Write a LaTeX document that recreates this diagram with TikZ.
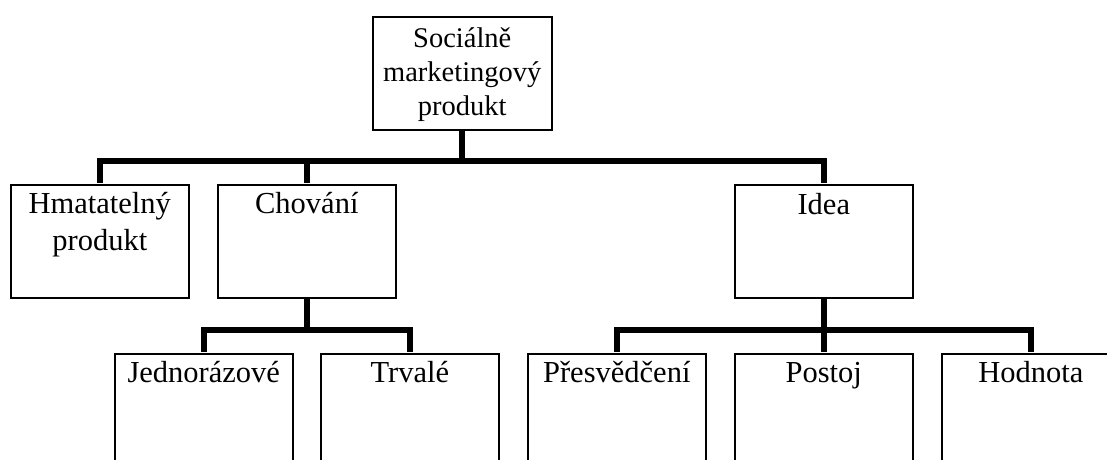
\documentclass[tikz,border=0pt]{standalone}
\usepackage{fontspec}
\setmainfont{Liberation Serif}
\begin{document}
\begin{tikzpicture}[x=1pt,y=1pt,
  box/.style={draw=black, line width=1.6pt, fill=white, inner sep=0pt, minimum width=178pt, minimum height=113pt, anchor=north west},
  lowbox/.style={box, minimum height=130pt},
  lbl/.style={inner sep=0pt, text width=178pt, align=center, anchor=base, font=\fontsize{30.5}{37}\selectfont},
  toplbl/.style={lbl, font=\fontsize{28.5}{34}\selectfont},
  conn/.style={draw=black, line width=6pt, line join=miter, line cap=butt}]
\path[use as bounding box] (0,0) rectangle (1107,-459);
\clip (0,0) rectangle (1107,-459);
% boxes
\node[box, minimum width=179pt] (top) at (372,-16) {};
\node[box] (hm) at (10,-184) {};
\node[box] (ch) at (217,-184) {};
\node[box] (id) at (734,-184) {};
\node[lowbox] (je) at (114,-353) {};
\node[lowbox] (tr) at (320,-353) {};
\node[lowbox] (pr) at (527,-353) {};
\node[lowbox] (po) at (734,-353) {};
\node[lowbox] (ho) at (941,-353) {};
% labels
\node[toplbl, text width=179pt] (topt) at ([yshift=-31pt]top.north) {Sociálně\\marketingový\\produkt};
\node[lbl] (hmt) at ([yshift=-29pt]hm.north) {Hmatatelný\\produkt};
\node[lbl] (cht) at ([yshift=-29pt]ch.north) {Chování};
\node[lbl] (idt) at ([yshift=-30pt]id.north) {Idea};
\node[lbl] (jet) at ([yshift=-29pt]je.north) {Jednorázové};
\node[lbl] (trt) at ([yshift=-29pt]tr.north) {Trvalé};
\node[lbl] (prt) at ([yshift=-29pt]pr.north) {Přesvědčení};
\node[lbl] (pot) at ([yshift=-29pt]po.north) {Postoj};
\node[lbl] (hot) at ([yshift=-29pt]ho.north) {Hodnota};
% bus coordinates
\coordinate (b1) at (0,-161);
\coordinate (b2) at (0,-330);
% connectors
\draw[conn] ([yshift=-0.8pt]top.south) -- (top.south |- b1);
\draw[conn] ([yshift=0.8pt]hm.north) |- (b1 -| id.north) -- ([yshift=0.8pt]id.north);
\draw[conn] ([yshift=0.8pt]ch.north) -- (ch.north |- b1);
\draw[conn] ([yshift=-0.8pt]ch.south) -- (ch.south |- b2);
\draw[conn] ([yshift=0.8pt]je.north) |- (b2 -| tr.north) -- ([yshift=0.8pt]tr.north);
\draw[conn] ([yshift=-0.8pt]id.south) -- (id.south |- b2);
\draw[conn] ([yshift=0.8pt]pr.north) |- (b2 -| ho.north) -- ([yshift=0.8pt]ho.north);
\draw[conn] ([yshift=0.8pt]po.north) -- (po.north |- b2);
\end{tikzpicture}
\end{document}
